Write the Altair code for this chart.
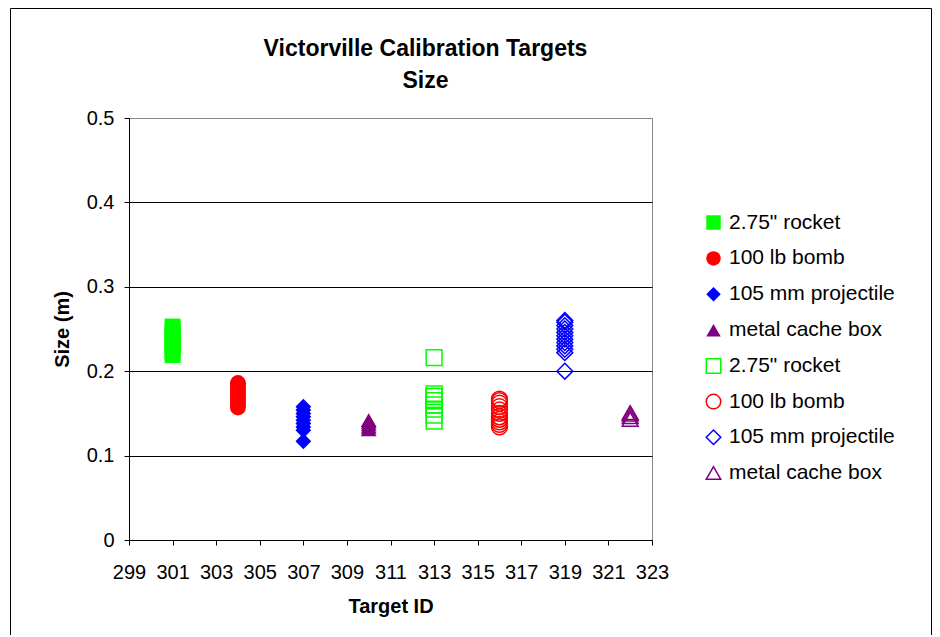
import altair as alt
import pandas as pd

# ---- data ----
types = ['2.75" rocket', "100 lb bomb", "105 mm projectile", "metal cache box"]
colors = ["#00FF00", "#FF0000", "#0000FF", "#800080"]
shapes = ["square", "circle", "diamond", "triangle-up"]

# filled series
rocket_f_id = 301
rocket_f = [0.219, 0.222, 0.226, 0.229, 0.233, 0.236, 0.240, 0.243, 0.247, 0.250, 0.253]
bomb_f_id = 304
bomb_f = [0.157, 0.160, 0.163, 0.166, 0.169, 0.172, 0.175, 0.178, 0.181, 0.184, 0.186]
proj_f_id = 307
proj_f = [0.117, 0.130, 0.134, 0.138, 0.142, 0.146, 0.150, 0.154, 0.158]
box_f_id = 310
box_f = [0.131, 0.134, 0.137, 0.140, 0.142]

# hollow series
rocket_h_id = 313
rocket_h = [0.141, 0.148, 0.155, 0.160, 0.165, 0.170, 0.173, 0.216]
bomb_h_id = 316
bomb_h = [0.134, 0.137, 0.140, 0.143, 0.146, 0.150, 0.154, 0.158, 0.162, 0.165, 0.167]
proj_h_id = 319
proj_h = [0.200, 0.222, 0.226, 0.230, 0.234, 0.238, 0.242, 0.246, 0.250, 0.254, 0.258, 0.260]
box_h_id = 322
box_h = [0.143, 0.146, 0.149, 0.151]

x_ticks = [299, 301, 303, 305, 307, 309, 311, 313, 315, 317, 319, 321, 323]
y_ticks = [0, 0.1, 0.2, 0.3, 0.4, 0.5]

rows = []
for tid, vals, t, kind in [
    (rocket_f_id, rocket_f, types[0], "filled"),
    (bomb_f_id, bomb_f, types[1], "filled"),
    (proj_f_id, proj_f, types[2], "filled"),
    (box_f_id, box_f, types[3], "filled"),
    (rocket_h_id, rocket_h, types[0], "hollow"),
    (bomb_h_id, bomb_h, types[1], "hollow"),
    (proj_h_id, proj_h, types[2], "hollow"),
    (box_h_id, box_h, types[3], "hollow"),
]:
    for v in vals:
        rows.append({"id": tid, "size": v, "type": t, "kind": kind})
df = pd.DataFrame(rows)

FONT = "Liberation Sans"
FS = 20
LFS = 21
W, H = 523, 422
LX = 574
LY = 94
ROW = 35.6

x_enc = alt.X("id:Q", scale=alt.Scale(domain=[299, 323], nice=False, zero=False),
              axis=alt.Axis(values=x_ticks, title="Target ID", grid=False,
                            tickSize=5, labelPadding=17, labelFontSize=FS,
                            labelOverlap=False, labelFlush=False,
                            titleFontSize=FS, titleFontWeight="bold",
                            titleX=W / 2, titleY=66, titleBaseline="middle",
                            domainColor="black", tickColor="black",
                            labelFont=FONT, titleFont=FONT, labelColor="black",
                            titleColor="black"))
y_enc = alt.Y("size:Q", scale=alt.Scale(domain=[0, 0.5], nice=False),
              axis=alt.Axis(values=y_ticks, format="~g", title="Size (m)",
                            tickSize=5, labelPadding=10, labelFontSize=FS,
                            labelOverlap=False, labelFlush=False,
                            titleFontSize=FS, titleFontWeight="bold",
                            titleX=-67, titleY=H / 2, titleBaseline="middle",
                            titleAngle=-90,
                            grid=True,
                            gridColor={"condition": {"test": "datum.value === 0.5", "value": "#888888"},
                                       "value": "black"},
                            domainColor="black", tickColor="black",
                            labelFont=FONT, titleFont=FONT, labelColor="black",
                            titleColor="black"))


def legend(y, pad):
    return alt.Legend(title=None, orient="none", legendX=LX, legendY=y,
                      labelFontSize=LFS, labelFont=FONT, labelColor="black",
                      labelLimit=400,
                      symbolSize=210, rowPadding=pad, labelOffset=5,
                      padding=0, symbolStrokeWidth=1.5)


def layer(kind, y, pad):
    filled = kind == "filled"
    base = alt.Chart(df).transform_filter(alt.datum.kind == kind)
    return base.mark_point(filled=filled, opacity=1, size=250,
                           strokeWidth=0 if filled else 1.5).encode(
        x=x_enc,
        y=y_enc,
        color=alt.Color("type:N", scale=alt.Scale(domain=types, range=colors), legend=legend(y, pad)),
        shape=alt.Shape("type:N", scale=alt.Scale(domain=types, range=shapes), legend=legend(y, pad)),
    )


border = alt.Chart(pd.DataFrame({"a": [0]})).mark_rect(
    fill=None, stroke="black", strokeWidth=1).encode(
    x=alt.value(-118.5), x2=alt.value(802.5), y=alt.value(-109.5), y2=alt.value(520))

chart = alt.layer(
    layer("filled", LY, 13.9),
    layer("hollow", LY + 4 * ROW + 1, 13.7),
    border,
).resolve_scale(color="independent", shape="independent").properties(
    width=W, height=H,
    padding={"left": 121, "top": 110, "right": 280, "bottom": 95},
    autosize=alt.AutoSizeParams(type="none"),
    title=alt.TitleParams(text=["Victorville Calibration Targets", "Size"],
                          font=FONT, fontSize=23, fontWeight="bold", color="black",
                          anchor="middle", frame="group", dx=35, offset=-85, lineHeight=32),
).configure_view(stroke="#888888", strokeWidth=1)

chart.save("out.html", embed_options={"renderer": "svg", "actions": False})
